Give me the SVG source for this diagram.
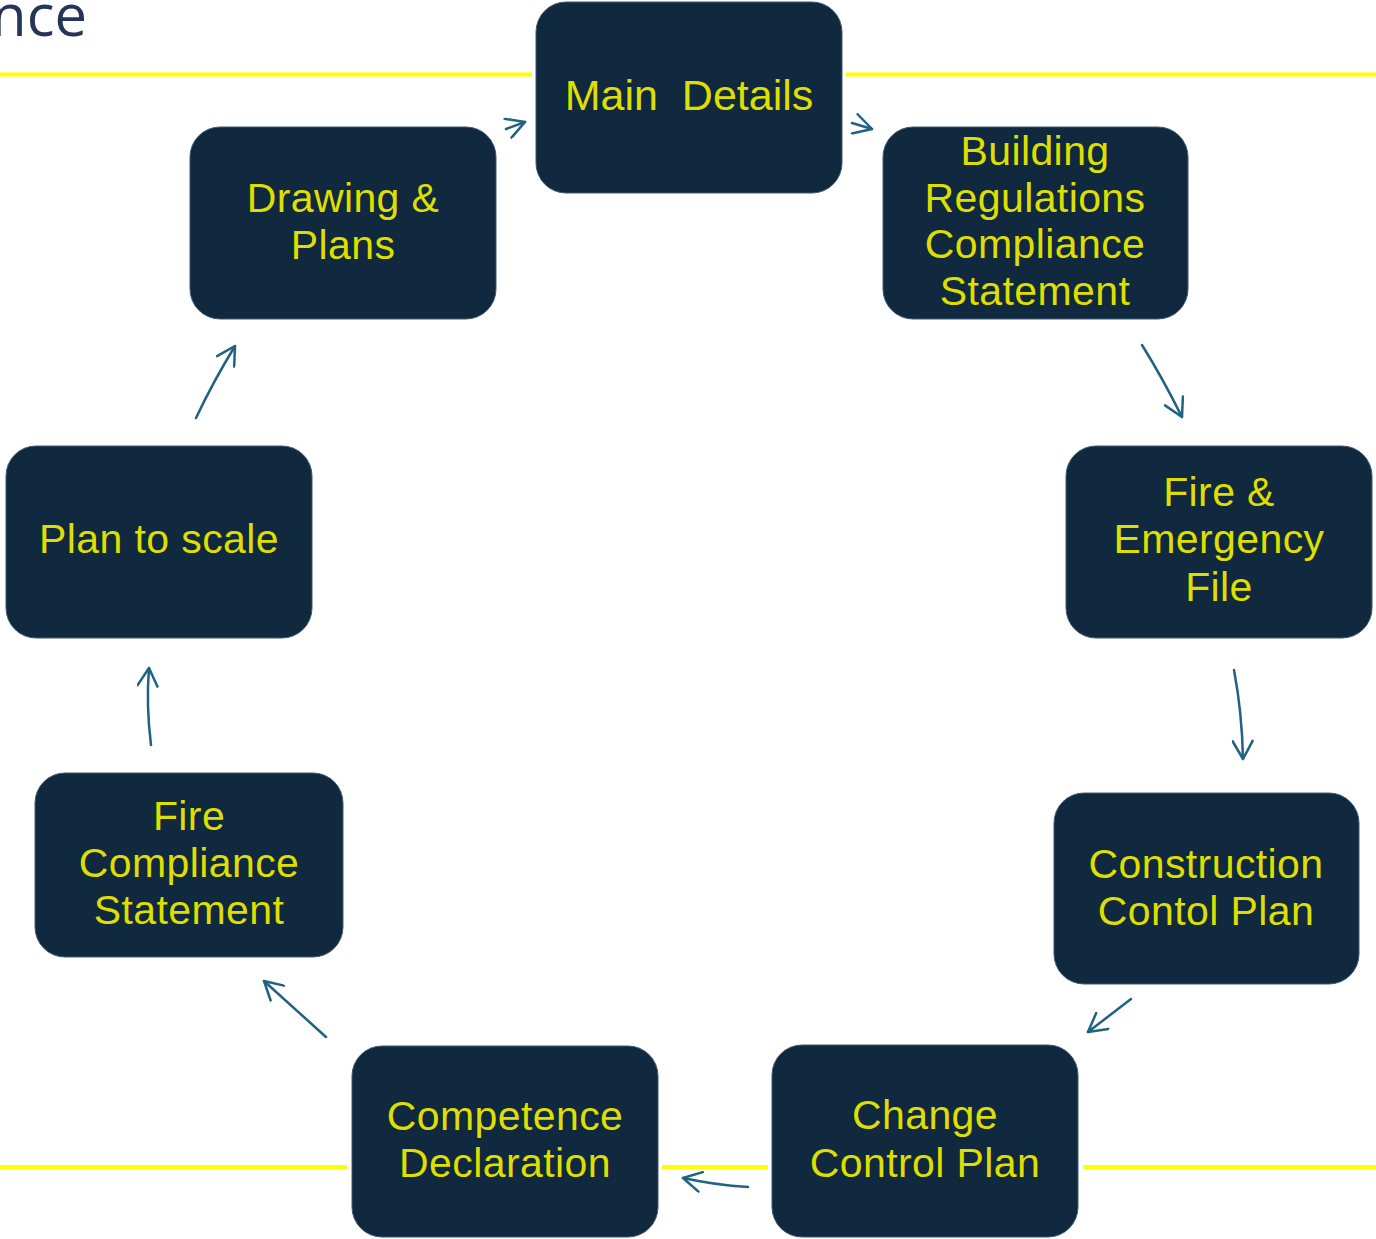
<svg xmlns="http://www.w3.org/2000/svg" width="1376" height="1239" viewBox="0 0 1376 1239">
<defs>
<style>
.box{fill:#10293f;stroke:#3f5a75;stroke-width:1}
.lbl{font-family:"Liberation Sans",Arial,sans-serif;font-size:41px;letter-spacing:0.4px;fill:#dede00;text-anchor:middle}
.conn{fill:none;stroke:#1f6282;stroke-width:2.5;stroke-linecap:round;marker-end:url(#ah)}
.rule{stroke:#ffff00;stroke-width:4}
</style>
<marker id="ah" viewBox="0 0 22 22" refX="20" refY="11" markerWidth="22" markerHeight="22" markerUnits="userSpaceOnUse" orient="auto">
<path d="M2,1 L20,11 L2,21" fill="none" stroke="#1f6282" stroke-width="2.5" stroke-linecap="round" stroke-linejoin="round"/>
</marker>
</defs>
<rect width="1376" height="1239" fill="#ffffff"/>
<text x="87" y="36" font-family="'Open Sans','Noto Sans',sans-serif" font-size="58" fill="#263459" text-anchor="end">nce</text>
<g id="rules">
<line class="rule" x1="0" y1="74.5" x2="532" y2="74.5"/>
<line class="rule" x1="846" y1="74.5" x2="1376" y2="74.5"/>
<line class="rule" x1="0" y1="1167" x2="347" y2="1167"/>
<line class="rule" x1="662" y1="1167" x2="768" y2="1167"/>
<line class="rule" x1="1083" y1="1167" x2="1376" y2="1167"/>
</g>
<g id="connectors">
<path class="conn" d="M506,129 L525,122"/>
<path class="conn" d="M852,123 L872,129"/>
<path class="conn" d="M1142,345 Q1162,377 1182,417"/>
<path class="conn" d="M1234,670 Q1242,712 1243,759"/>
<path class="conn" d="M1131,999 L1088,1032"/>
<path class="conn" d="M748,1187 Q715,1185 683,1178"/>
<path class="conn" d="M326,1037 L264,981"/>
<path class="conn" d="M151,745 Q146,705 149,668"/>
<path class="conn" d="M196,418 Q213,382 235,346"/>
</g>
<g id="main-details">
<rect class="box" x="536" y="2" width="306" height="191" rx="30"/>
<text class="lbl" x="689" y="110" style="font-size:43px;letter-spacing:0" xml:space="preserve">Main  Details</text>
</g>
<g id="building-regulations">
<rect class="box" x="883" y="127" width="305" height="192" rx="30"/>
<text class="lbl" x="1035" y="165">Building</text>
<text class="lbl" x="1035" y="212">Regulations</text>
<text class="lbl" x="1035" y="258">Compliance</text>
<text class="lbl" x="1035" y="305">Statement</text>
</g>
<g id="fire-emergency">
<rect class="box" x="1066" y="446" width="306" height="192" rx="30"/>
<text class="lbl" x="1219" y="506">Fire &amp;</text>
<text class="lbl" x="1219" y="553">Emergency</text>
<text class="lbl" x="1219" y="601">File</text>
</g>
<g id="construction-control">
<rect class="box" x="1054" y="793" width="305" height="191" rx="30"/>
<text class="lbl" x="1206" y="878">Construction</text>
<text class="lbl" x="1206" y="925">Contol Plan</text>
</g>
<g id="change-control">
<rect class="box" x="772" y="1045" width="306" height="192" rx="30"/>
<text class="lbl" x="925" y="1129">Change</text>
<text class="lbl" x="925" y="1177">Control Plan</text>
</g>
<g id="competence-declaration">
<rect class="box" x="352" y="1046" width="306" height="191" rx="30"/>
<text class="lbl" x="505" y="1130">Competence</text>
<text class="lbl" x="505" y="1177">Declaration</text>
</g>
<g id="fire-compliance">
<rect class="box" x="35" y="773" width="308" height="184" rx="30"/>
<text class="lbl" x="189" y="830">Fire</text>
<text class="lbl" x="189" y="877">Compliance</text>
<text class="lbl" x="189" y="924">Statement</text>
</g>
<g id="plan-to-scale">
<rect class="box" x="6" y="446" width="306" height="192" rx="30"/>
<text class="lbl" x="159" y="553">Plan to scale</text>
</g>
<g id="drawing-plans">
<rect class="box" x="190" y="127" width="306" height="192" rx="30"/>
<text class="lbl" x="343" y="212">Drawing &amp;</text>
<text class="lbl" x="343" y="259">Plans</text>
</g>
</svg>
